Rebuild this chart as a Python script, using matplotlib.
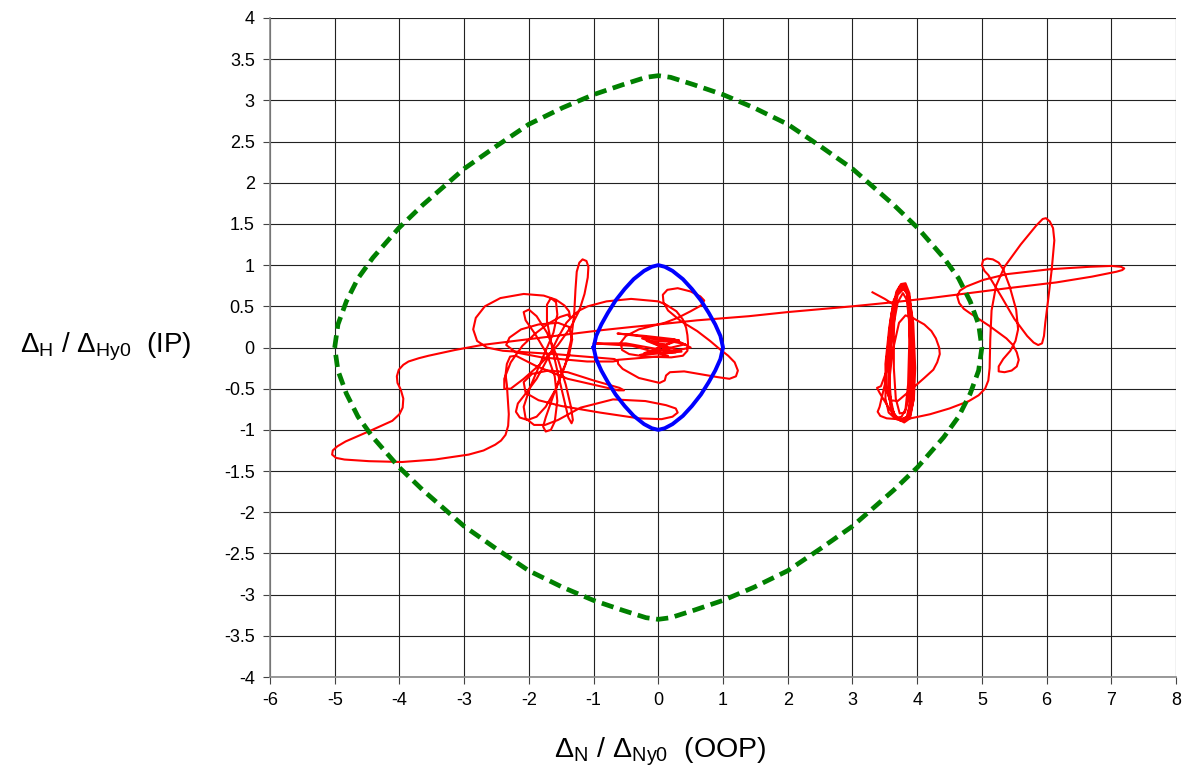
import numpy as np
import matplotlib.pyplot as plt
from matplotlib.ticker import MultipleLocator, FuncFormatter

plt.rcParams['font.family'] = ['Liberation Sans', 'DejaVu Sans']
plt.rcParams['mathtext.fontset'] = 'custom'
plt.rcParams['mathtext.rm'] = 'Liberation Sans'
plt.rcParams['axes.unicode_minus'] = False

# stability boundary (green dashed)
green_x = [-5.00, -4.95, -4.82, -4.64, -4.41, -4.01, -3.64, -3.00, -2.51, -2.00, -1.48, -1.00, -0.55, -0.19, 0.00,
           0.19, 0.55, 1.00, 1.48, 2.00, 2.51, 3.00, 3.64, 4.01, 4.41, 4.64, 4.82, 4.95, 5.00,
           4.95, 4.82, 4.64, 4.41, 4.01, 3.64, 3.00, 2.51, 2.00, 1.48, 1.00, 0.55, 0.19, 0.00,
           -0.19, -0.55, -1.00, -1.48, -2.00, -2.51, -3.00, -3.64, -4.01, -4.41, -4.64, -4.82, -4.95, -5.00]
green_y = [0.00, 0.28, 0.56, 0.84, 1.09, 1.45, 1.73, 2.17, 2.44, 2.71, 2.91, 3.07, 3.19, 3.28, 3.30,
           3.28, 3.19, 3.07, 2.91, 2.71, 2.44, 2.17, 1.73, 1.45, 1.09, 0.84, 0.56, 0.28, 0.00,
           -0.28, -0.56, -0.84, -1.09, -1.45, -1.73, -2.17, -2.44, -2.71, -2.91, -3.07, -3.19, -3.28, -3.30,
           -3.28, -3.19, -3.07, -2.91, -2.71, -2.44, -2.17, -1.73, -1.45, -1.09, -0.84, -0.56, -0.28, 0.00]

# unit lens (blue)
blue_x = [-1.00, -0.96, -0.88, -0.78, -0.66, -0.52, -0.38, -0.22, -0.10, 0.00, 0.10, 0.22, 0.38, 0.52, 0.66, 0.78, 0.88, 0.96, 1.00,
          0.96, 0.88, 0.78, 0.66, 0.52, 0.38, 0.22, 0.10, 0.00, -0.10, -0.22, -0.38, -0.52, -0.66, -0.78, -0.88, -0.96, -1.00]
blue_y = [0.00, 0.14, 0.28, 0.42, 0.57, 0.71, 0.83, 0.93, 0.98, 1.00, 0.98, 0.93, 0.83, 0.71, 0.57, 0.42, 0.28, 0.14, 0.00,
          -0.14, -0.28, -0.42, -0.57, -0.71, -0.83, -0.93, -0.98, -1.00, -0.98, -0.93, -0.83, -0.71, -0.57, -0.42, -0.28, -0.14, 0.00]

# trajectory (red), read piece by piece
red_center = [(0.00, 0.00), (0.10, 0.04), (-0.06, 0.05), (0.16, -0.03), (-0.12, -0.05), (0.22, 0.07), (-0.18, 0.08),
              (0.27, -0.06), (-0.22, -0.07), (0.32, 0.09), (-0.25, 0.11), (0.36, -0.05), (-0.28, -0.09), (0.42, 0.04),
              (-0.10, 0.12), (-0.63, 0.17), (-0.20, 0.14), (0.25, 0.10), (0.50, 0.00), (0.20, -0.05), (-0.50, 0.05),
              (-1.00, 0.05), (-0.40, 0.02), (0.15, -0.10), (-0.63, -0.15), (-0.62, -0.20),
              (-0.55, -0.26), (-0.30, -0.37), (0.02, -0.43), (0.10, -0.40), (0.12, -0.34), (0.18, -0.30), (0.40, -0.29),
              (0.70, -0.33), (0.92, -0.36), (1.10, -0.38), (1.20, -0.35), (1.23, -0.28), (1.18, -0.18), (1.08, -0.10),
              (0.95, -0.02), (0.80, 0.08), (0.60, 0.20), (0.35, 0.32), (0.15, 0.45), (0.08, 0.55), (0.07, 0.64),
              (0.14, 0.70), (0.30, 0.72), (0.50, 0.68), (0.65, 0.62), (0.71, 0.57), (0.66, 0.51), (0.50, 0.44),
              (0.30, 0.36), (0.10, 0.30), (-0.30, 0.22), (-0.50, 0.14), (-0.58, 0.06), (-0.56, -0.03), (-0.45, -0.08),
              (-0.20, -0.11), (0.20, -0.12), (0.38, -0.10), (0.45, -0.04), (0.46, 0.05), (0.45, 0.15), (0.43, 0.24),
              (0.38, 0.34), (0.28, 0.44), (0.12, 0.52), (0.00, 0.56), (-0.42, 0.59), (-0.80, 0.56), (-1.09, 0.50),
              (-1.22, 0.45), (-1.30, 0.40)]

red_left_cluster = [(-1.42, 0.30), (-1.55, 0.12), (-1.70, -0.12), (-1.88, -0.38), (-2.05, -0.56), (-2.17, -0.68),
                    (-2.20, -0.78), (-2.14, -0.85), (-2.02, -0.88), (-1.88, -0.84), (-1.74, -0.72), (-1.58, -0.50),
                    (-1.44, -0.22), (-1.35, 0.08), (-1.30, 0.40), (-1.28, 0.70), (-1.26, 0.92), (-1.22, 1.03),
                    (-1.17, 1.07), (-1.11, 1.05), (-1.08, 0.98), (-1.09, 0.85), (-1.14, 0.65), (-1.22, 0.45),
                    (-1.35, 0.25), (-1.55, 0.03), (-1.82, -0.20), (-2.08, -0.38), (-2.28, -0.50), (-2.38, -0.50),
                    (-2.38, -0.38), (-2.28, -0.18), (-2.10, 0.02), (-1.90, 0.17), (-1.70, 0.29), (-1.52, 0.37),
                    (-1.40, 0.40), (-1.36, 0.36), (-1.38, 0.44), (-1.45, 0.51), (-1.58, 0.58), (-1.77, 0.63),
                    (-2.08, 0.65), (-2.44, 0.60), (-2.68, 0.50), (-2.82, 0.36), (-2.86, 0.22), (-2.80, 0.08),
                    (-2.65, 0.00), (-2.40, -0.04), (-2.00, -0.06), (-1.60, -0.08), (-1.00, -0.12), (-0.68, -0.14),
                    (-0.63, -0.16), (-0.70, -0.17), (-1.10, -0.17), (-1.80, -0.12), (-2.20, -0.06), (-2.35, 0.03),
                    (-2.30, 0.12), (-2.12, 0.22), (-1.85, 0.28), (-1.55, 0.30), (-1.38, 0.25), (-1.33, 0.10),
                    (-1.38, -0.10), (-1.50, -0.32), (-1.62, -0.58), (-1.74, -0.85), (-1.78, -0.96), (-1.74, -1.02),
                    (-1.66, -1.00), (-1.60, -0.90), (-1.56, -0.65), (-1.60, -0.35), (-1.72, -0.08), (-1.90, 0.16),
                    (-2.05, 0.33), (-2.08, 0.43), (-2.00, 0.46), (-1.88, 0.38), (-1.72, 0.18), (-1.56, -0.12),
                    (-1.43, -0.45), (-1.35, -0.72), (-1.32, -0.88), (-1.34, -0.92), (-1.39, -0.85), (-1.46, -0.62),
                    (-1.55, -0.32), (-1.64, 0.00), (-1.72, 0.32), (-1.72, 0.52), (-1.66, 0.60), (-1.58, 0.55),
                    (-1.56, 0.40), (-1.62, 0.18), (-1.80, -0.15), (-1.98, -0.48), (-2.08, -0.72), (-2.05, -0.86),
                    (-1.92, -0.94), (-1.75, -0.94), (-1.55, -0.88), (-1.20, -0.73), (-0.70, -0.63), (-0.20, -0.65),
                    (0.12, -0.70), (0.27, -0.74), (0.30, -0.79), (0.22, -0.84), (0.05, -0.87), (-0.30, -0.86),
                    (-0.90, -0.79), (-1.50, -0.71), (-1.85, -0.64), (-2.05, -0.55), (-2.08, -0.42), (-1.95, -0.32),
                    (-1.70, -0.28), (-1.40, -0.30), (-1.00, -0.40), (-0.60, -0.49), (-0.53, -0.52), (-0.62, -0.52),
                    (-1.40, -0.38), (-1.90, -0.22), (-2.20, -0.10), (-2.29, -0.11), (-2.34, -0.20), (-2.36, -0.33)]

red_left_sweep = [(-2.34, -0.45), (-2.33, -0.57), (-2.31, -0.81), (-2.32, -0.95), (-2.36, -1.06), (-2.43, -1.13),
                  (-2.52, -1.18), (-2.70, -1.25), (-2.93, -1.30), (-3.45, -1.36), (-3.96, -1.39), (-4.47, -1.38),
                  (-4.85, -1.36), (-4.98, -1.34), (-5.04, -1.30), (-5.03, -1.25), (-4.96, -1.20), (-4.83, -1.14),
                  (-4.42, -1.00), (-4.11, -0.89), (-4.00, -0.81), (-3.95, -0.73), (-3.94, -0.62), (-3.98, -0.51),
                  (-4.03, -0.43), (-4.04, -0.35), (-4.01, -0.27), (-3.94, -0.21), (-3.86, -0.17), (-3.70, -0.13),
                  (-3.55, -0.10), (-3.14, -0.03), (-2.73, 0.03), (-2.11, 0.09), (-1.39, 0.16), (-0.88, 0.21),
                  (-0.40, 0.25), (0.00, 0.28), (0.60, 0.33), (1.40, 0.38), (2.00, 0.43), (3.00, 0.50), (3.64, 0.55),
                  (4.20, 0.60), (4.70, 0.65), (5.40, 0.72), (6.15, 0.79), (6.70, 0.86), (7.08, 0.92), (7.17, 0.94),
                  (7.20, 0.96)]

red_right = [(7.15, 0.98), (7.00, 0.99), (6.67, 0.98), (6.05, 0.95), (5.38, 0.89), (5.02, 0.82), (4.76, 0.74),
             (4.66, 0.69), (4.62, 0.62), (4.65, 0.54), (4.72, 0.47), (4.81, 0.42), (5.12, 0.26), (5.38, 0.11),
             (5.48, 0.03), (5.54, -0.06), (5.57, -0.15), (5.54, -0.23), (5.46, -0.28), (5.35, -0.30),
             (5.26, -0.29), (5.26, -0.23), (5.33, -0.14), (5.44, -0.04), (5.52, 0.08), (5.56, 0.22), (5.53, 0.46),
             (5.43, 0.74), (5.33, 0.95), (5.26, 1.03), (5.17, 1.07), (5.08, 1.08), (5.02, 1.06), (5.00, 1.00),
             (5.04, 0.93), (5.10, 0.88), (5.30, 0.62), (5.50, 0.35), (5.70, 0.14), (5.80, 0.06), (5.87, 0.03),
             (5.93, 0.05), (5.96, 0.14), (5.98, 0.30), (6.02, 0.55), (6.08, 0.95), (6.12, 1.30), (6.10, 1.45),
             (6.05, 1.53), (5.99, 1.57), (5.94, 1.56), (5.84, 1.48), (5.60, 1.25), (5.35, 0.98), (5.22, 0.75),
             (5.15, 0.45), (5.13, 0.10), (5.12, -0.25), (5.10, -0.40), (5.05, -0.50), (4.95, -0.58),
             (4.80, -0.65), (4.50, -0.74), (4.20, -0.81), (3.90, -0.86), (3.70, -0.87), (3.53, -0.86),
             (3.43, -0.83), (3.39, -0.78), (3.42, -0.72)]

red_cluster = [(3.50, -0.45), (3.55, -0.10), (3.62, 0.35), (3.68, 0.65), (3.73, 0.74), (3.79, 0.76), (3.84, 0.68),
               (3.87, 0.45), (3.88, 0.10), (3.86, -0.45), (3.82, -0.75), (3.76, -0.84), (3.66, -0.86),
               (3.56, -0.79), (3.51, -0.62), (3.52, -0.20), (3.60, 0.40), (3.68, 0.68), (3.75, 0.77), (3.82, 0.78),
               (3.88, 0.66), (3.92, 0.35), (3.93, -0.10), (3.91, -0.55), (3.86, -0.82), (3.79, -0.89),
               (3.68, -0.87), (3.60, -0.72), (3.57, -0.35), (3.59, 0.15), (3.65, 0.55), (3.71, 0.70), (3.78, 0.73),
               (3.85, 0.64), (3.91, 0.35), (3.95, -0.25), (3.94, -0.65), (3.89, -0.86), (3.80, -0.91),
               (3.66, -0.85), (3.52, -0.68), (3.42, -0.55), (3.38, -0.49), (3.44, -0.47), (3.52, -0.30),
               (3.58, 0.15), (3.66, 0.58), (3.74, 0.74), (3.81, 0.76), (3.87, 0.62), (3.92, 0.25), (3.93, -0.20),
               (3.91, -0.62), (3.84, -0.84), (3.74, -0.88), (3.62, -0.80), (3.55, -0.55), (3.56, -0.10),
               (3.62, 0.35), (3.70, 0.64), (3.79, 0.71), (3.87, 0.65), (3.94, 0.30), (3.97, -0.25), (3.95, -0.62),
               (3.89, -0.83), (3.79, -0.89), (3.68, -0.86), (3.59, -0.72), (3.57, -0.40), (3.62, -0.05),
               (3.72, 0.30), (3.82, 0.39), (3.93, 0.36), (4.11, 0.28), (4.22, 0.20), (4.29, 0.11), (4.34, 0.00),
               (4.35, -0.08), (4.31, -0.18), (4.25, -0.27), (4.11, -0.37), (3.98, -0.46), (3.85, -0.55),
               (3.70, -0.65), (3.58, -0.64), (3.52, -0.50), (3.51, -0.20), (3.57, 0.25), (3.64, 0.58),
               (3.74, 0.71), (3.83, 0.72), (3.89, 0.55), (3.93, 0.15), (3.94, -0.30), (3.92, -0.68),
               (3.85, -0.87), (3.74, -0.89), (3.64, -0.80), (3.57, -0.55), (3.58, -0.15), (3.63, 0.25),
               (3.70, 0.55), (3.78, 0.66), (3.84, 0.58), (3.88, 0.30), (3.90, -0.20), (3.87, -0.62),
               (3.81, -0.79), (3.73, -0.80), (3.67, -0.62), (3.64, -0.25), (3.64, 0.15), (3.65, 0.45),
               (3.62, 0.53), (3.50, 0.59), (3.31, 0.67)]

red = np.array(red_center + red_left_cluster + red_left_sweep + red_right + red_cluster)

fig = plt.figure(figsize=(11.91, 7.78), dpi=100)
ax = fig.add_axes([270 / 1191, 1 - 677 / 778, 906 / 1191, 659 / 778])

ax.plot(red[:, 0], red[:, 1], color='#ff0000', lw=1.5, solid_joinstyle='round', zorder=3)
ax.plot(blue_x, blue_y, color='#0000ff', lw=2.8, solid_joinstyle='round', zorder=4)
ax.plot(green_x, green_y, color='#008000', lw=3.4, linestyle=(0, (2.6, 1.4)), zorder=4)

ax.set_xlim(-6, 8)
ax.set_ylim(-4, 4)
ax.xaxis.set_major_locator(MultipleLocator(1))
ax.yaxis.set_major_locator(MultipleLocator(0.5))
ax.xaxis.set_major_formatter(FuncFormatter(lambda v, p: '{:g}'.format(v)))
ax.yaxis.set_major_formatter(FuncFormatter(lambda v, p: '{:g}'.format(v)))
ax.grid(True, color='#222222', lw=0.8)
ax.set_axisbelow(True)
for s in ['top', 'right']:
    ax.spines[s].set_visible(False)
for s in ['left', 'bottom']:
    ax.spines[s].set_color('#888888')
    ax.spines[s].set_linewidth(1.2)
ax.tick_params(direction='out', length=5, width=0.8, color='#444444', labelsize=13, pad=6)

fig.text(20 / 1191, 1 - 347 / 778, r'Δ$_{\rm H}$ / Δ$_{\rm Hy0}$  (IP)', fontsize=20, ha='left', va='center')
fig.text(660 / 1191, 1 - 752 / 778, r'Δ$_{\rm N}$ / Δ$_{\rm Ny0}$  (OOP)', fontsize=20.5, ha='center', va='center')

fig.savefig('out.png', dpi=100)
